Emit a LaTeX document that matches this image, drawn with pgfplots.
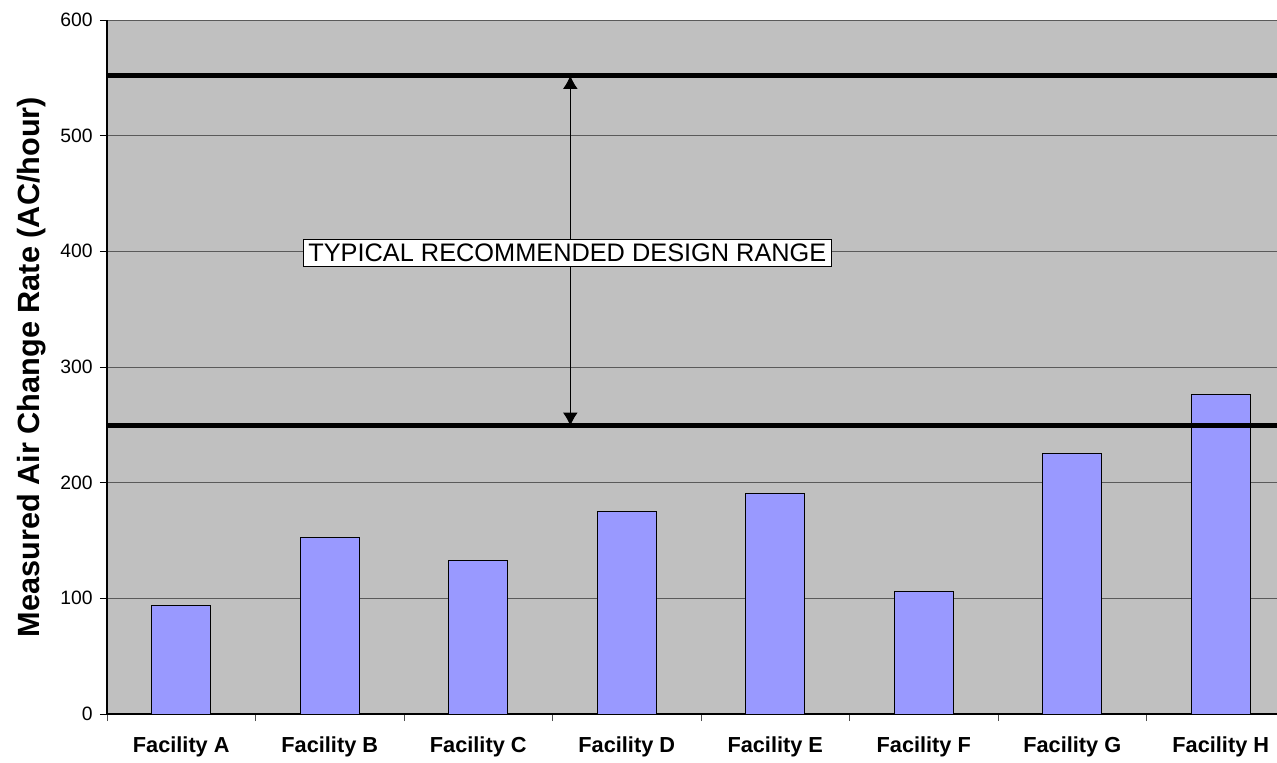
\documentclass[border=0pt]{standalone}
\usepackage{fontspec}
\setmainfont{Liberation Sans}
\usepackage{pgfplots}
\pgfplotsset{compat=1.18}
\usetikzlibrary{arrows.meta}

\definecolor{plotbg}{HTML}{C0C0C0}
\definecolor{barfill}{HTML}{9999FF}
\definecolor{gridgray}{HTML}{5A5A5A}

\begin{document}
\begin{tikzpicture}
\begin{axis}[
  scale only axis,
  width=891pt, height=520.5pt,
  xmin=-0.5, xmax=7.5, ymin=0, ymax=600,
  axis background/.style={fill=plotbg},
  axis x line*=bottom, axis y line*=left,
  axis line style={black, line width=0.9pt},
  ytick={0,100,...,600},
  ymajorgrids,
  major grid style={gridgray, line width=0.7pt},
  xtick={0,...,7},
  xticklabels={Facility A,Facility B,Facility C,Facility D,Facility E,Facility F,Facility G,Facility H},
  major x tick style={draw=none},
  minor xtick={-0.5,0.5,...,7.5},
  minor x tick style={black!70, line width=0.7pt},
  major y tick style={black, line width=0.7pt},
  tick align=outside,
  major tick length=5.25pt,
  minor tick length=5.25pt,
  /pgf/number format/assume math mode=true,
  xticklabel style={font=\fontsize{16.3}{19}\selectfont\bfseries, yshift=-8pt},
  yticklabel style={font=\fontsize{14.5}{17}\selectfont, xshift=-2pt},
  ylabel={Measured Air Change Rate (AC/hour)},
  ylabel style={at={([xshift=-50.25pt]axis description cs:0,0.5)}, anchor=base,
                font=\fontsize{23}{26}\selectfont\bfseries},
  clip=false,
]
  % measured rates
  \addplot[ybar, bar width=44.25pt, fill=barfill, draw=black, line width=0.75pt]
    coordinates {(0,94) (1,153) (2,133) (3,175) (4,191) (5,106) (6,225) (7,276)};

  % design range limits
  \addplot[black, line width=3.75pt, forget plot] coordinates {(-0.5,552) (7.5,552)};
  \addplot[black, line width=3.75pt, forget plot] coordinates {(-0.5,249) (7.5,249)};

  \draw[{Latex[length=10pt,width=11pt]}-{Latex[length=10pt,width=11pt]}, line width=0.75pt]
    (axis cs:2.62,249) -- (axis cs:2.62,552);
  \node[draw=black, fill=white, line width=0.75pt, inner xsep=3.5pt, inner ysep=3.5pt,
        font=\fontsize{19}{22}\selectfont]
    at (axis cs:2.6,398.5) {TYPICAL RECOMMENDED DESIGN RANGE};

  \coordinate (sw) at (rel axis cs:0,0);
  \coordinate (ne) at (rel axis cs:1,1);
\end{axis}
\pgfresetboundingbox
\path[use as bounding box] ([xshift=-80.25pt, yshift=-36pt]sw) rectangle ([xshift=-13.5pt, yshift=15pt]ne);
\end{tikzpicture}
\end{document}
